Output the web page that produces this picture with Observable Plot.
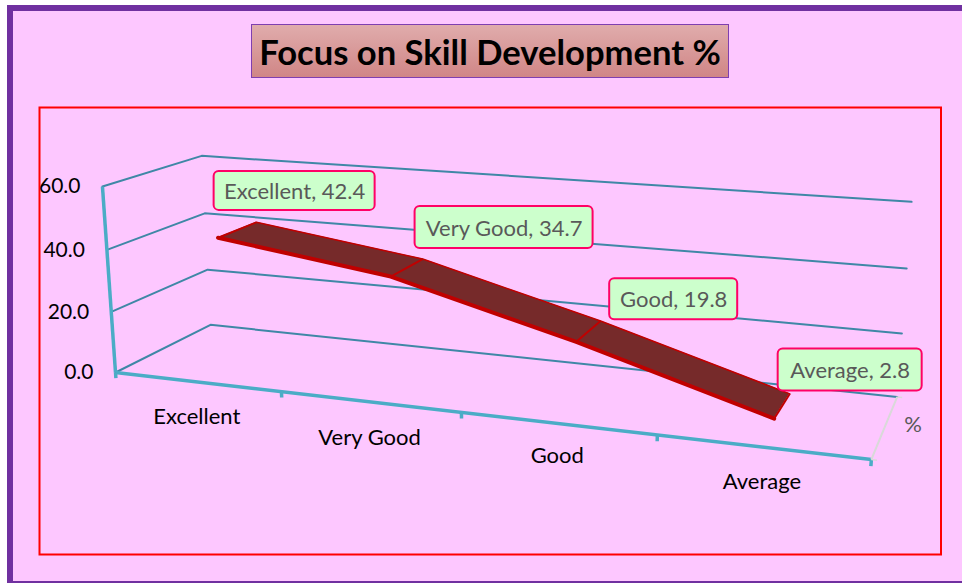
<!DOCTYPE html>
<html>
<head>
<meta charset="utf-8">
<script src="https://cdn.jsdelivr.net/npm/d3@7"></script>
<script src="https://cdn.jsdelivr.net/npm/@observablehq/plot@0.6"></script>
<style>
  html, body { margin: 0; padding: 0; background: #fff; }
  #figure { position: relative; width: 962px; height: 583px; overflow: hidden; }
  #panel { position: absolute; left: 7px; top: 5px; width: 960px; height: 570px;
           background: #FDC7FF; border: 6px solid #7030A0; border-bottom-width: 2px; }
  #title { position: absolute; left: 251px; top: 24px; width: 476px; height: 52px; margin: 0;
           border: 1px solid #7F3FB0; background: linear-gradient(#E0ACAC, #D08686);
           font: 700 34.6px Lato, sans-serif; line-height: 54px; text-align: center; color: #000; white-space: nowrap; }
  #figure svg { position: absolute; left: 0; top: 0; }
</style>
</head>
<body>
<div id="figure"><div id="panel"></div><h1 id="title">Focus on Skill Development %</h1></div>
<script>
// ---- data ----
const categories = ["Excellent", "Very Good", "Good", "Average"];
const percents = [42.4, 34.7, 19.8, 2.8];
const valueTicks = [0, 20, 40, 60];
const valueMax = 60;
const seriesName = "%";

// ---- layout ----
const W = 962, H = 583;
const FONT = "Lato, sans-serif";
const ribbonDepth = [0.29, 0.71];
// callout placement relative to each ribbon point, and box size
const calloutDx = [57, 97, 85, 68];
const calloutDy = [-39, -40, -32, -36];
const calloutW = [161, 178, 128, 144];
const calloutH = [39, 42, 41, 42];
const categoryLabelDy = [35, 36, 33, 35];

// Perspective projection of the chart's 3-D box:
// t = category position (0..n), v = value, d = depth (0 front .. 1 back)
function project(t, v, d) {
  const u = v / valueMax;
  const w = 1 - 0.039 * t - 0.033 * u + 0.1066 * d;
  return [
    (115 + 155 * t - 16.4 * u + 117.4 * d) / w,
    (372 + 3.85 * t - 192.1 * u - 13.1 * d + 0.64 * t * d) / w
  ];
}
const px = (t, v, d) => project(t, v, d)[0];
const py = (t, v, d) => project(t, v, d)[1];
const n = categories.length;

// walls: gridline runs front-left -> back-left -> back-right
const gridRows = valueTicks.flatMap(v =>
  [[0, 0], [0, 1], [n, 1]].map(([t, d]) => ({v, x: px(t, v, d), y: py(t, v, d)})));
const rows = categories.map((c, i) => ({
  c, v: percents[i], t: i + 0.5,
  fx: px(i + 0.5, percents[i], ribbonDepth[0]), fy: py(i + 0.5, percents[i], ribbonDepth[0]),
  bx: px(i + 0.5, percents[i], ribbonDepth[1]), by: py(i + 0.5, percents[i], ribbonDepth[1]),
  ax: px(i + 0.5, percents[i], 0.5), ay: py(i + 0.5, percents[i], 0.5),
  i
}));
const tickOffset = -1.9; // tick length, in value units below the floor
const catTicks = d3.range(n + 1);

const RED = "#FF0000", TEAL = "#3F87A6", AXIS = "#4BACC6", RIB = "#C00000";

const chart = Plot.plot({
  width: W, height: H,
  margin: 0,
  style: {background: "transparent", fontFamily: FONT},
  x: {domain: [0, W], range: [0, W], axis: null},
  y: {domain: [0, H], range: [0, H], axis: null},
  marks: [
    // outer red plot frame
    Plot.rect([0], {x1: () => 39.5, x2: () => 941, y1: () => 107.5, y2: () => 554.5, fill: "none", stroke: RED, strokeWidth: 2}),

    // wall gridlines
    Plot.line(gridRows, {x: "x", y: "y", z: "v", stroke: TEAL, strokeWidth: 2}),

    // value axis
    Plot.link([0], {
      x1: () => px(0, 0, 0), y1: () => py(0, 0, 0),
      x2: () => px(0, valueMax, 0), y2: () => py(0, valueMax, 0),
      stroke: AXIS, strokeWidth: 3.5
    }),
    // category axis
    Plot.link([0], {
      x1: () => px(0, 0, 0), y1: () => py(0, 0, 0),
      x2: () => px(n, 0, 0), y2: () => py(n, 0, 0),
      stroke: AXIS, strokeWidth: 3.5
    }),
    Plot.link(catTicks, {
      x1: t => px(t, 0, 0), y1: t => py(t, 0, 0),
      x2: t => px(t, tickOffset, 0), y2: t => py(t, tickOffset, 0),
      stroke: AXIS, strokeWidth: 3.5
    }),
    // depth axis
    Plot.link([0], {
      x1: () => px(n, 0, 0), y1: () => py(n, 0, 0),
      x2: () => px(n, 0, 1), y2: () => py(n, 0, 1),
      stroke: "#D9D9D9", strokeWidth: 2
    }),
    Plot.link([0, 1], {
      x1: d => px(n, 0, d), y1: d => py(n, 0, d),
      x2: d => px(n + 0.025, 0, d), y2: d => py(n + 0.025, 0, d),
      stroke: "#D9D9D9", strokeWidth: 1.5
    }),

    // axis labels
    Plot.text(valueTicks, {
      x: v => px(0, v, 0) - 22, y: v => py(0, v, 0),
      text: v => v.toFixed(1), textAnchor: "end", fontSize: 21, fontFamily: FONT, fill: "#000"
    }),
    Plot.text(categories, {
      x: (c, i) => px(i + 0.5, 0, 0), y: (c, i) => py(i + 0.5, 0, 0) + categoryLabelDy[i],
      text: c => c, fontSize: 22, fontFamily: FONT, fill: "#000"
    }),
    Plot.text([seriesName], {
      x: () => px(n, 0, 0.5) + 28, y: () => py(n, 0, 0.5) - 1,
      text: s => s, fontSize: 22, fontFamily: FONT, fill: "#595959"
    }),

    // ribbon
    Plot.area(rows, {x1: "fx", y1: "fy", x2: "bx", y2: "by", fill: "#762A2A"}),
    Plot.line(rows, {x: "bx", y: "by", stroke: RIB, strokeWidth: 1.5}),
    Plot.link(rows, {x1: "fx", y1: "fy", x2: "bx", y2: "by", stroke: RIB, strokeWidth: 2}),
    Plot.line(rows, {x: "fx", y: "fy", stroke: RIB, strokeWidth: 4, strokeLinejoin: "round", strokeLinecap: "round"}),

    // callouts
    Plot.rect(rows, {
      x1: r => r.ax + calloutDx[r.i] - calloutW[r.i] / 2,
      x2: r => r.ax + calloutDx[r.i] + calloutW[r.i] / 2,
      y1: r => r.ay + calloutDy[r.i] - calloutH[r.i] / 2,
      y2: r => r.ay + calloutDy[r.i] + calloutH[r.i] / 2,
      rx: 5, fill: "#CCFFCC", stroke: "#FF0066", strokeWidth: 2
    }),
    Plot.text(rows, {
      x: r => r.ax + calloutDx[r.i],
      y: r => r.ay + calloutDy[r.i] + 1,
      text: r => `${r.c}, ${r.v.toFixed(1)}`,
      fontSize: 22, fontFamily: FONT, fill: "#595959"
    })
  ]
});
document.getElementById("figure").appendChild(chart);
</script>
</body>
</html>
